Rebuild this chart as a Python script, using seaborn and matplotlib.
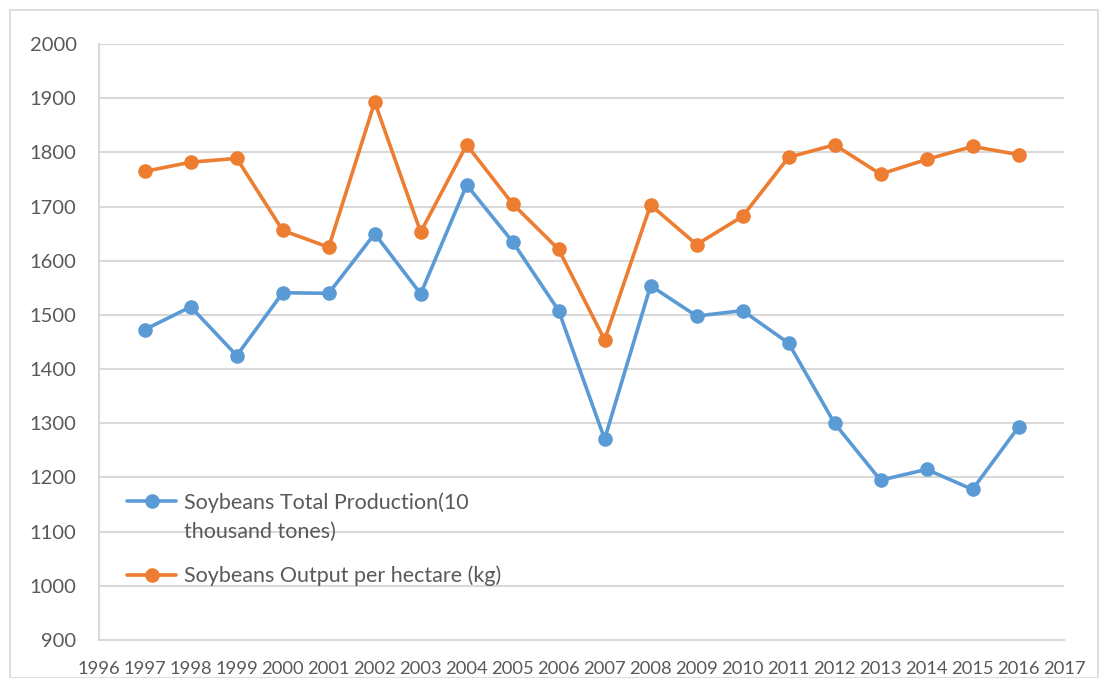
import matplotlib
matplotlib.use("Agg")
import matplotlib.pyplot as plt
from matplotlib.patches import Rectangle
from matplotlib.legend_handler import HandlerLine2D
import seaborn as sns
import pandas as pd

years = list(range(1997, 2017))
total_production = [1473, 1515, 1425, 1541, 1540, 1650, 1539, 1740, 1635, 1508,
                    1271, 1554, 1498, 1508, 1448, 1300, 1195, 1215, 1178, 1293]
output_per_hectare = [1765, 1782, 1789, 1656, 1625, 1893, 1653, 1814, 1705, 1621,
                      1454, 1703, 1630, 1682, 1791, 1814, 1760, 1787, 1811, 1796]
series_names = ["Soybeans Total Production(10\nthousand tones)",
                "Soybeans Output per hectare (kg)"]
x_ticks = list(range(1996, 2018))
y_ticks = list(range(900, 2001, 100))

df = pd.concat([
    pd.DataFrame({"year": years, "value": total_production, "series": series_names[0]}),
    pd.DataFrame({"year": years, "value": output_per_hectare, "series": series_names[1]}),
])

sns.set_theme(style="white")
plt.rcParams["font.family"] = ["Lato", "DejaVu Sans"]
text_color = "#595959"
grid_color = "#d9d9d9"


class FirstLineHandler(HandlerLine2D):
    """Legend handle placed beside the first line of a two-line label."""

    def __init__(self, shift, **kw):
        super().__init__(**kw)
        self.shift = shift

    def create_artists(self, legend, orig_handle, xdescent, ydescent,
                       width, height, fontsize, trans):
        artists = super().create_artists(legend, orig_handle, xdescent, ydescent,
                                         width, height, fontsize, trans)
        for a in artists:
            a.set_ydata([y + self.shift for y in a.get_ydata()])
        return artists


fig = plt.figure(figsize=(11.10, 6.78), dpi=100)
ax = fig.add_axes([0.089, 0.056, 0.870, 0.879])

sns.lineplot(data=df, x="year", y="value", hue="series",
             palette=["#5B9BD5", "#ED7D31"], marker="o", markersize=10.5,
             markeredgewidth=0, linewidth=2.6, ax=ax)

ax.set_xlim(1996, 2017)
ax.set_ylim(900, 2000)
ax.set_xticks(x_ticks)
ax.set_xticklabels([str(t) for t in x_ticks], fontsize=13.2, color=text_color)
ax.set_yticks(y_ticks)
ax.set_yticklabels([str(t) for t in y_ticks], fontsize=14.5, color=text_color)
ax.tick_params(axis="both", length=0)
ax.tick_params(axis="y", pad=16)
ax.tick_params(axis="x", pad=15)
ax.set_xlabel("")
ax.set_ylabel("")

ax.yaxis.grid(True, color=grid_color, linewidth=1.5)
ax.set_axisbelow(True)
for side in ["top", "right"]:
    ax.spines[side].set_visible(False)
for side in ["left", "bottom"]:
    ax.spines[side].set_color(grid_color)
    ax.spines[side].set_linewidth(1.5)

handles, labels = ax.get_legend_handles_labels()
leg = ax.legend(handles, labels, loc="upper left", bbox_to_anchor=(0.009, 0.281),
                frameon=False, fontsize=15.5, handlelength=2.3, handletextpad=0.35,
                labelspacing=1.1, labelcolor=text_color,
                handler_map={handles[0]: FirstLineHandler(shift=12)})
for t in leg.get_texts():
    t.set_linespacing(1.6)

fig.patches.append(Rectangle((10 / 1110, 0), 1088 / 1110, 1 - 10 / 678,
                             transform=fig.transFigure, fill=False,
                             edgecolor=grid_color, linewidth=1.2))

fig.savefig("out.png", dpi=100)
